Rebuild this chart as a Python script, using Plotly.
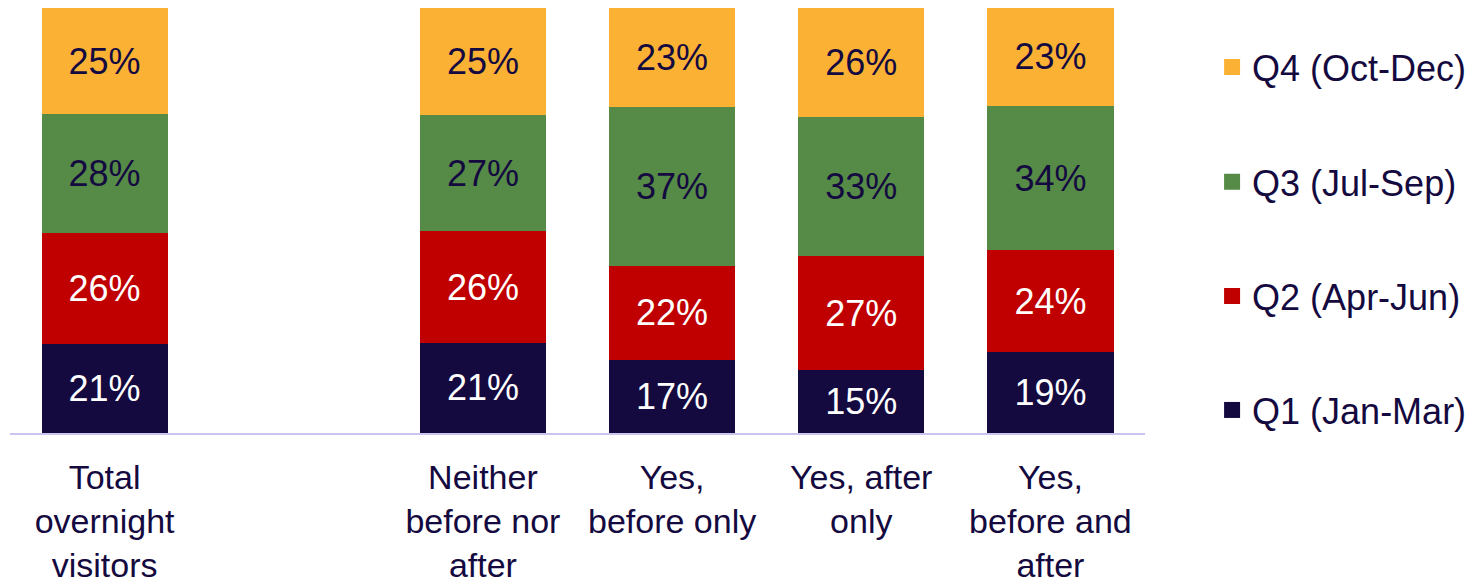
import plotly.graph_objects as go

categories = [
    "Total<br>overnight<br>visitors",
    " ",
    "Neither<br>before nor<br>after",
    "Yes,<br>before only",
    "Yes, after<br>only",
    "Yes,<br>before and<br>after",
]
series_names = ["Q1 (Jan-Mar)", "Q2 (Apr-Jun)", "Q3 (Jul-Sep)", "Q4 (Oct-Dec)"]
q1 = [21, None, 21, 17, 15, 19]
q2 = [26, None, 26, 22, 27, 24]
q3 = [28, None, 27, 37, 33, 34]
q4 = [25, None, 25, 23, 26, 23]

colors = ["#140A40", "#C00000", "#558B46", "#FBB234"]
text_colors = ["#FFFFFF", "#FFFFFF", "#140A40", "#140A40"]
NAVY = "#140A40"
FONT = "Liberation Sans, Arial, sans-serif"

fig = go.Figure()
for name, vals, col, tcol in zip(series_names, [q1, q2, q3, q4], colors, text_colors):
    fig.add_trace(go.Bar(
        x=categories, y=vals, name=name,
        marker=dict(color=col, line=dict(width=0)),
        text=[f"{v}%" if v is not None else "" for v in vals],
        textposition="inside", insidetextanchor="middle", textangle=0,
        textfont=dict(size=36, color=tcol, family=FONT),
        showlegend=False, hoverinfo="skip",
    ))

legend_ids = ["legend4", "legend3", "legend2", "legend"]
for name, col, lid in zip(series_names, colors, legend_ids):
    fig.add_trace(go.Scatter(
        x=[None], y=[None], mode="markers", name=name,
        marker=dict(symbol="square", size=16, color=col),
        legend=lid, showlegend=True,
    ))

legend_common = dict(
    xanchor="left", yanchor="middle", x=1.0591,
    font=dict(size=36, color=NAVY, family=FONT),
    bgcolor="rgba(0,0,0,0)", borderwidth=0, itemsizing="trace",
)
layout_legends = {}
for lid, y in zip(["legend", "legend2", "legend3", "legend4"], [0.861, 0.591, 0.322, 0.054]):
    layout_legends[lid] = dict(legend_common, y=y)

fig.update_layout(
    barmode="stack", barnorm="percent", bargap=0.333,
    width=1476, height=570,
    margin=dict(l=2, r=339, t=0, b=145, autoexpand=False),
    plot_bgcolor="white", paper_bgcolor="white",
    font=dict(family=FONT, color=NAVY),
    uniformtext=dict(minsize=36, mode="show"),
    **layout_legends,
)
fig.update_xaxes(
    showline=True, linecolor="#CCC3F0", linewidth=2,
    showgrid=False, ticks="", ticklabelstandoff=13,
    tickfont=dict(size=34, color=NAVY, family=FONT),
    tickangle=0, automargin=False,
)
fig.update_yaxes(range=[0, 100], visible=False, showgrid=False, automargin=False)

fig.write_html("out.html")
